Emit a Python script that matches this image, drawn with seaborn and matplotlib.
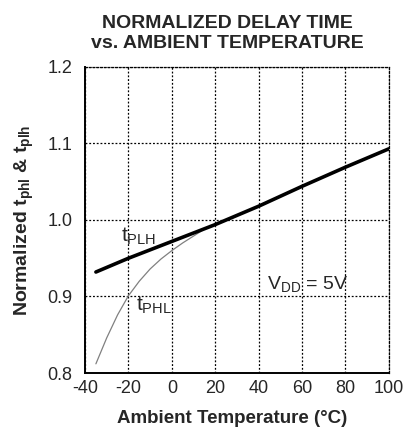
import numpy as np
import pandas as pd
import seaborn as sns
import matplotlib.pyplot as plt

# Values
plh_temp = [-35, -20, 0, 20, 40, 60, 80, 100]
plh_delay = [0.932, 0.950, 0.972, 0.994, 1.018, 1.044, 1.069, 1.093]

phl_temp = [-35, -30, -25, -20, -15, -10, -5, 0, 5, 10, 15]
phl_delay = [0.812, 0.846, 0.876, 0.901, 0.920, 0.936, 0.949, 0.960, 0.970, 0.979, 0.988]

x_ticks = [-40, -20, 0, 20, 40, 60, 80, 100]
y_ticks = [0.8, 0.9, 1.0, 1.1, 1.2]

sns.set_style("white")
plt.rcParams['font.family'] = ['Liberation Sans', 'DejaVu Sans']
plt.rcParams['mathtext.fontset'] = 'custom'
plt.rcParams['mathtext.rm'] = 'Liberation Sans'
plt.rcParams['mathtext.bf'] = 'Liberation Sans:bold'

plh_df = pd.DataFrame({'temp': plh_temp, 'delay': plh_delay})
phl_df = pd.DataFrame({'temp': phl_temp, 'delay': phl_delay})

fig = plt.figure(figsize=(4.05, 4.28), dpi=100)
ax = fig.add_axes([0.21, 0.1285, 0.75, 0.715])

sns.lineplot(data=phl_df, x='temp', y='delay', ax=ax, color='#808080', linewidth=0.9)
sns.lineplot(data=plh_df, x='temp', y='delay', ax=ax, color='black', linewidth=2.6)

ax.set_xlim(-40, 100)
ax.set_ylim(0.8, 1.2)
ax.set_xticks(x_ticks)
ax.set_yticks(y_ticks)
ax.set_xticklabels([str(t) for t in x_ticks])
ax.set_yticklabels(['%.1f' % t for t in y_ticks])
ax.tick_params(length=0, labelsize=13)
ax.tick_params(axis='x', pad=5)
ax.tick_params(axis='y', pad=9)

ax.grid(True, linestyle=(0, (1.5, 1.5)), color='black', linewidth=0.9)
for side in ['top', 'right']:
    ax.spines[side].set_linestyle((0, (1.5, 1.5)))
    ax.spines[side].set_linewidth(0.9)
for side in ['left', 'bottom']:
    ax.spines[side].set_linewidth(1.4)
for s in ax.spines.values():
    s.set_color('black')

ax.text(-23.5, 0.971, r'$\mathregular{t_{PLH}}$', fontsize=15, va='baseline')
ax.text(-16.5, 0.881, r'$\mathregular{t_{PHL}}$', fontsize=15, va='baseline')
ax.text(44, 0.91, r'$\mathregular{V_{DD}}$ = 5V', fontsize=14, va='baseline')

ax.set_xlabel('Ambient Temperature (°C)', fontsize=13.5, fontweight='bold')
ax.xaxis.set_label_coords(0.485, -0.12)
ax.set_ylabel(r'Normalized $\mathbf{t_{phl}}$ & $\mathbf{t_{plh}}$', fontsize=14,
              fontweight='bold', labelpad=8)
ax.set_title('NORMALIZED DELAY TIME\nvs. AMBIENT TEMPERATURE', fontsize=14,
             fontweight='bold', pad=14, linespacing=1.2, x=0.47)

fig.savefig('out.png', dpi=100)
